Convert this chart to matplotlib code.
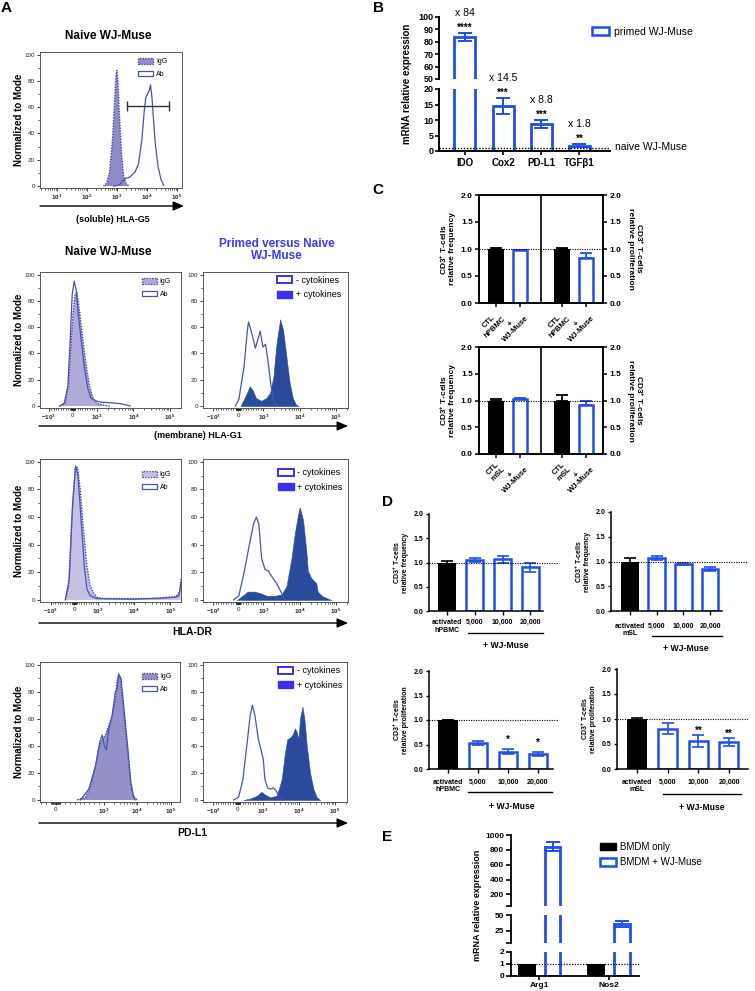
import matplotlib
matplotlib.use("Agg")
import matplotlib.pyplot as plt
from matplotlib.patches import Patch, FancyArrowPatch

plt.rcParams['font.family'] = ['Liberation Sans', 'DejaVu Sans']
plt.rcParams['font.weight'] = 'bold'
plt.rcParams['axes.labelweight'] = 'bold'
plt.rcParams['mathtext.fontset'] = 'custom'
plt.rcParams['mathtext.rm'] = 'Liberation Sans'
plt.rcParams['mathtext.it'] = 'Liberation Sans:italic'
plt.rcParams['mathtext.bf'] = 'Liberation Sans:bold'

BLUE = '#1f4fe8'
TITLE_BLUE = '#3b3bf2'
AB_COL = '#4653b4'
NAVY = '#2a4a9c'
LEG_BLUE = '#3a2ff0'
IGG_EDGE = '#4646a6'

# ---------------- data ----------------
# A: flow histograms, x = fluorescence, y = % of mode
g5_igg_x = [355, 447, 562, 708, 832, 933, 1000, 1072, 1202, 1413, 1660, 1995, 2512]
g5_igg_y = [0, 2, 10, 35, 65, 85, 88, 80, 55, 25, 8, 2, 0]
g5_ab_x = [776, 1259, 1660, 2138, 2754, 4074, 5248, 6761, 8128, 9120, 10470,
           12020, 13180, 14790, 16600, 19050, 23440, 29510, 36310]
g5_ab_y = [0, 1, 5, 6, 7, 11, 17, 35, 57, 67, 70, 73, 77, 67, 50, 32, 15, 5, 0.5]
g5_gate_x = [2140, 52500]
g5_gate_y = 61

g1_igg_x = [-530, -320, -180, -84, 0, 98, 168, 280, 420, 560, 700, 840, 1010, 1535, 2330]
g1_igg_y = [0, 2, 15, 45, 70, 85, 87, 72, 50, 30, 15, 6, 2, 0.5, 0]
g1_ab_x = [-560, -363, -210, -112, -28, 56, 140, 224, 336, 476, 615, 755, 937,
           1245, 2330, 3940, 5980, 8150]
g1_ab_y = [0, 2, 15, 50, 85, 95, 88, 70, 52, 30, 14, 6, 4, 3, 2.5, 2, 1, 0]
g1_minus_x = [-110, 27, 234, 370, 412, 549, 687, 879, 989, 1159, 1340, 1644, 1900, 2239, 2636]
g1_minus_y = [0, 5, 30, 58, 64, 55, 44, 57, 45, 47, 35, 15, 5, 1, 0]
g1_plus_x = [96, 302, 467, 577, 714, 920, 1208, 1545, 1900, 2333, 2924, 3516,
             4320, 5310, 6520, 8010, 9440]
g1_plus_y = [0, 8, 15, 12, 6, 4, 6, 10, 22, 48, 66, 58, 38, 18, 6, 1, 0]

dr_igg_x = [-377, -238, -98, 42, 140, 252, 392, 531, 671, 811, 951, 1413, 9290,
            49600, 75400, 103000, 141000, 180000, 193000]
dr_igg_y = [0, 10, 60, 95, 96, 80, 50, 25, 10, 5, 2, 1, 1, 1, 2, 2, 2.5, 6, 15]
dr_ab_x = [-377, -210, -70, 56, 154, 280, 420, 531, 671, 951, 9290, 75400, 141000, 170000, 193000]
dr_ab_y = [0, 15, 70, 97, 90, 60, 25, 8, 3, 1, 0.5, 1.5, 2, 3, 12]
dr_minus_x = [-182, 28, 238, 447, 615, 727, 825, 937, 1122, 1383, 1706, 2333, 3200, 3780, 4370]
dr_minus_y = [0, 3, 20, 40, 55, 60, 55, 30, 22, 21, 17, 12, 5, 1, 0]
dr_plus_x = [-42, 168, 377, 657, 867, 1245, 2100, 3200, 4370, 5980, 7380, 9100,
             10100, 12450, 15350, 16900, 20800, 28800, 31600, 43300, 73800]
dr_plus_y = [0, 3, 6, 6, 5, 3, 3, 4, 10, 30, 48, 62, 67, 58, 35, 21, 16, 12, 6, 2.5, 0]

pd_igg_x = [450, 623, 727, 831, 900, 969, 1135, 1426, 1791, 2249, 2523, 2825,
            3170, 3981, 5000, 6280, 7880, 9910]
pd_igg_y = [0, 2, 10, 25, 38, 45, 48, 55, 62, 75, 88, 93, 90, 65, 40, 15, 3, 0]
pd_ab_x = [519, 692, 831, 921, 969, 1059, 1216, 1426, 1791, 2249, 2523, 2825,
           3311, 3981, 5000, 6580, 7880, 8830]
pd_ab_y = [0, 8, 25, 43, 48, 40, 37, 52, 62, 80, 82, 93, 90, 70, 45, 12, 2, 0]
pd_minus_x = [-172, 26, 198, 357, 489, 582, 688, 820, 913, 1031, 1146, 1358,
              1648, 1954, 2317, 2690, 3327, 3707]
pd_minus_y = [0, 2, 15, 40, 62, 70, 62, 45, 38, 30, 15, 9, 8, 9, 7, 4, 1, 0]
pd_plus_x = [225, 489, 754, 952, 1146, 1578, 2415, 3327, 4120, 4790, 5680, 6600,
             7830, 8700, 9690, 10750, 12500, 14200, 16500, 20400, 25300, 31300, 38700]
pd_plus_y = [0, 1, 3, 6, 4, 2, 3, 15, 35, 45, 46, 48, 53, 50, 45, 60, 69, 60, 40, 20, 8, 2, 0]

# B: qPCR primed vs naive
b_genes = ['IDO', 'Cox2', 'PD-L1', 'TGFβ1']
b_primed = [84, 14.4, 8.6, 1.7]
b_err = [3, 2.6, 1.3, 0.4]
b_fold = ['x 84', 'x 14.5', 'x 8.8', 'x 1.8']
b_stars = ['****', '***', '***', '**']

# C: co-culture, frequency | proliferation
c_kind = ['ctl', 'wj', 'ctl', 'wj']
c_top_vals = [1.0, 0.98, 1.0, 0.84]
c_top_err = [0.01, 0.005, 0.02, 0.09]
c_top_labels = ['CTL\nhPBMC', '+\nWJ-Muse', 'CTL\nhPBMC', '+\nWJ-Muse']
c_bot_vals = [1.0, 1.03, 1.0, 0.92]
c_bot_err = [0.03, 0.02, 0.11, 0.07]
c_bot_labels = ['CTL\nmSL', '+\nWJ-Muse', 'CTL\nmSL', '+\nWJ-Muse']

# D: dose response
d_labels_h = ['activated\nhPBMC', '5,000', '10,000', '20,000']
d_labels_m = ['activated\nmSL', '5,000', '10,000', '20,000']
d_freq_h = [1.0, 1.06, 1.07, 0.90]
d_freq_h_err = [0.03, 0.04, 0.07, 0.09]
d_freq_m = [1.0, 1.07, 0.95, 0.85]
d_freq_m_err = [0.07, 0.04, 0.02, 0.04]
d_prol_h = [1.0, 0.53, 0.35, 0.31]
d_prol_h_err = [0.01, 0.04, 0.05, 0.04]
d_prol_m = [1.0, 0.81, 0.57, 0.55]
d_prol_m_err = [0.03, 0.11, 0.12, 0.08]
d_prol_h_sig = ['', '', '*', '*']
d_prol_m_sig = ['', '', '**', '**']

# E: macrophage genes
e_genes = ['Arg1', 'Nos2']
e_bmdm = [1, 1]
e_wj = [843, 36]
e_wj_err = [60, 5]

# ---------------- figure ----------------
W, H = 755, 991
fig = plt.figure(figsize=(W / 100, H / 100), dpi=100)


def rect(l, t, r, b):
    return [l / W, 1 - b / H, (r - l) / W, (b - t) / H]


def ftext(x, y, s, **kw):
    fig.text(x / W, 1 - y / H, s, **kw)


def axis_arrow(x0, x1, y):
    fig.add_artist(FancyArrowPatch((x0 / W, 1 - y / H), (x1 / W, 1 - y / H),
                                   transform=fig.transFigure,
                                   arrowstyle='-|>,head_length=0.65,head_width=0.28',
                                   mutation_scale=10, lw=1.0, color='black',
                                   shrinkA=0, shrinkB=0))


def flow_frame(box):
    ax = fig.add_axes(rect(*box))
    ax.set_ylim(-1.5, 102)
    ax.set_yticks([0, 20, 40, 60, 80, 100], ['0', '20', '40', '60', '80', '100'],
                  fontweight='normal')
    ax.set_yticks([10, 30, 50, 70, 90], minor=True)
    ax.tick_params(which='major', labelsize=4.5, length=2.2, width=0.6, pad=1.5, colors='#222')
    ax.tick_params(which='minor', length=1.3, width=0.5, colors='#222')
    for s in ax.spines.values():
        s.set_linewidth(0.7)
        s.set_color('#555')
    return ax


BIEX_TICKS = [-1000, 0, 1000, 10000, 100000]
BIEX_LABELS = ['$-10^{3}$', '0', '$10^{3}$', '$10^{4}$', '$10^{5}$']
BIEX_MINOR = (list(range(-900, 0, 100)) + list(range(-90, 0, 10)) + list(range(10, 100, 10))
              + list(range(100, 1000, 100)) + list(range(2000, 10000, 1000))
              + list(range(20000, 100000, 10000)) + [200000])


def biex(ax, linscale, lo, hi):
    ax.set_xscale('symlog', linthresh=1000, linscale=linscale)
    ax.set_xlim(lo, hi)
    keep = [i for i, t in enumerate(BIEX_TICKS) if lo <= t <= hi]
    ax.set_xticks([BIEX_TICKS[i] for i in keep], [BIEX_LABELS[i] for i in keep],
                  fontweight='normal')
    ax.set_xticks([m for m in BIEX_MINOR if lo <= m <= hi], minor=True)


def igg_legend(ax, fc, x, y):
    h = [Patch(facecolor=fc, edgecolor=IGG_EDGE, linestyle=(0, (1, 1)), linewidth=1.0),
         Patch(facecolor='white', edgecolor=AB_COL, linewidth=0.9)]
    ax.legend(h, ['IgG', 'Ab'], loc='upper left', bbox_to_anchor=(x, y), frameon=False,
              prop={'size': 5, 'weight': 'normal'}, handlelength=2.2, handleheight=0.9,
              labelspacing=0.75, handletextpad=0.4, borderpad=0, borderaxespad=0)


def cyt_legend(ax, x, y):
    h = [Patch(facecolor='white', edgecolor=LEG_BLUE, linewidth=1.4),
         Patch(facecolor=LEG_BLUE, edgecolor=LEG_BLUE, linewidth=1.0)]
    ax.legend(h, ['- cytokines', '+ cytokines'], loc='upper left', bbox_to_anchor=(x, y),
              frameon=False, prop={'size': 6.5, 'weight': 'normal'}, handlelength=1.7,
              handleheight=0.8, labelspacing=0.6, handletextpad=0.4, borderpad=0,
              borderaxespad=0)


def left_hist(ax, ix, iy, ax_x, ay, fc):
    ax.fill_between(ix, iy, 0, facecolor=fc, edgecolor='none')
    ax.plot(ix, iy, color=IGG_EDGE, lw=1.0, ls=(0, (1, 1)))
    ax.plot(ax_x, ay, color=AB_COL, lw=0.9)


def right_hist(ax, mx, my, px, py):
    ax.fill_between(px, py, 0, facecolor=NAVY, edgecolor=NAVY, lw=0.4)
    ax.plot(mx, my, color=AB_COL, lw=0.9)


# ---- A top: soluble HLA-G5
ax = flow_frame((40, 52, 182, 188))
ax.set_xscale('log')
ax.set_xlim(2.7, 148000)
ax.set_xticks([10, 100, 1000, 10000, 100000],
              ['$10^{1}$', '$10^{2}$', '$10^{3}$', '$10^{4}$', '$10^{5}$'], fontweight='normal')
left_hist(ax, g5_igg_x, g5_igg_y, g5_ab_x, g5_ab_y, '#8e8cc8')
ax.plot(g5_gate_x, [g5_gate_y] * 2, color='#333333', lw=1.0, marker='|', ms=7, mew=1.0)
igg_legend(ax, '#8e8cc8', 0.69, 0.955)
ftext(108, 36, 'Naive WJ-Muse', ha='center', va='center', fontsize=8.5)
ftext(19, 120, 'Normalized to Mode', rotation=90, ha='center', va='center', fontsize=7)
axis_arrow(40, 184, 206)
ftext(113, 219, '(soluble) HLA-G5', ha='center', va='center', fontsize=6.5)

# ---- A rows: HLA-G1, HLA-DR, PD-L1
rows = [
    ((40, 272, 181, 408), (203, 272, 348, 408), g1_igg_x, g1_igg_y, g1_ab_x, g1_ab_y,
     g1_minus_x, g1_minus_y, g1_plus_x, g1_plus_y, '#aeabd8', 0.59, (-1750, 199000),
     0.72, 0.955, 0.51, 0.97),
    ((40, 459, 181, 602), (203, 459, 348, 602), dr_igg_x, dr_igg_y, dr_ab_x, dr_ab_y,
     dr_minus_x, dr_minus_y, dr_plus_x, dr_plus_y, '#c4c1e4', 0.59, (-1950, 195000),
     0.72, 0.915, 0.52, 0.935),
    ((40, 662, 180, 802), (203, 662, 347, 802), pd_igg_x, pd_igg_y, pd_ab_x, pd_ab_y,
     pd_minus_x, pd_minus_y, pd_plus_x, pd_plus_y, '#9491ca', 1.29, (-325, 192000),
     0.73, 0.92, 0.52, 0.97),
]
for (lbox, rbox, ix, iy, abx, aby, mx, my, px, py, fc, ls_left, lim_left,
     lgx, lgy, rgx, rgy) in rows:
    axl = flow_frame(lbox)
    biex(axl, ls_left, *lim_left)
    left_hist(axl, ix, iy, abx, aby, fc)
    igg_legend(axl, fc, lgx, lgy)
    axr = flow_frame(rbox)
    biex(axr, 0.62, -1900, 215000)
    right_hist(axr, mx, my, px, py)
    cyt_legend(axr, rgx, rgy)
    ftext(19, (lbox[1] + lbox[3]) / 2, 'Normalized to Mode', rotation=90,
          ha='center', va='center', fontsize=7)

ftext(108, 252, 'Naive WJ-Muse', ha='center', va='center', fontsize=8.5)
ftext(277, 250, 'Primed versus Naive\nWJ-Muse', ha='center', va='center', fontsize=8.5,
      color=TITLE_BLUE, linespacing=1.0)
axis_arrow(39, 348, 426)
ftext(198, 436, '(membrane) HLA-G1', ha='center', va='center', fontsize=6.5)
axis_arrow(39, 348, 623)
ftext(192, 632, 'HLA-DR', ha='center', va='center', fontsize=7.5)
axis_arrow(39, 348, 823)
ftext(192, 833, 'PD-L1', ha='center', va='center', fontsize=7.5)

# ---------------- B ----------------
axBu = fig.add_axes(rect(439, 17, 610, 79))
axBl = fig.add_axes(rect(439, 89, 610, 151))
xb = list(range(len(b_genes)))
for ax in (axBu, axBl):
    ax.bar(xb, b_primed, 0.55, facecolor='white', edgecolor=BLUE, linewidth=2.0)
    ax.errorbar(xb, b_primed, yerr=b_err, fmt='none', ecolor=BLUE, elinewidth=1.4,
                capsize=4.8, capthick=1.4)
    ax.set_xlim(-0.68, 3.8)
    ax.spines['top'].set_visible(False)
    ax.spines['right'].set_visible(False)
    ax.spines['left'].set_linewidth(1.4)
    ax.tick_params(axis='y', labelsize=6.5, width=1.2, length=3, pad=1)
axBu.set_ylim(50, 100)
axBu.set_yticks(range(50, 101, 10))
axBu.spines['bottom'].set_visible(False)
axBu.set_xticks([])
axBl.set_ylim(0, 20)
axBl.set_yticks(range(0, 21, 5))
axBl.set_xticks(xb, b_genes, fontsize=7)
axBl.tick_params(axis='x', width=1.2, length=3, pad=2)
axBl.spines['bottom'].set_linewidth(1.4)
axBl.axhline(1, ls=(0, (1, 1.2)), color='black', lw=1.0, zorder=4)
for i in xb:
    axt = axBu if b_primed[i] > 50 else axBl
    top = b_primed[i] + b_err[i]
    axt.annotate(b_stars[i], (i, top), xytext=(0, 1.7), textcoords='offset points',
                 ha='center', va='baseline', fontsize=7, annotation_clip=False)
    axt.annotate(b_fold[i], (i, top), xytext=(0, 12.5), textcoords='offset points',
                 ha='center', va='baseline', fontsize=7.5, fontweight='normal',
                 annotation_clip=False)
ftext(407, 84, 'mRNA relative expression', rotation=90, ha='center', va='center', fontsize=7)
ftext(615, 147, 'naive WJ-Muse', ha='left', va='center', fontsize=7.5, fontweight='normal')
fig.legend([Patch(facecolor='white', edgecolor=BLUE, linewidth=1.8)], ['primed WJ-Muse'],
           loc='center left', bbox_to_anchor=(592 / W, 1 - 32 / H), frameon=False,
           prop={'size': 7.5, 'weight': 'normal'}, handlelength=1.6, handleheight=0.8,
           handletextpad=0.5, borderpad=0, borderaxespad=0)


# ---------------- C ----------------
def c_panel(box, vals, errs, labels):
    ax = fig.add_axes(rect(*box))
    xs = [0, 1, 2.75, 3.75]
    for x, v, e, k in zip(xs, vals, errs, c_kind):
        col = 'black' if k == 'ctl' else BLUE
        if k == 'ctl':
            ax.bar(x, v, 0.7, color='black', zorder=3)
        else:
            ax.bar(x, v, 0.62, facecolor='white', edgecolor=BLUE, lw=1.8, zorder=3)
        ax.errorbar(x, v, yerr=[[0], [e]], fmt='none', ecolor=col, elinewidth=1.3,
                    capsize=4.5, capthick=1.3, zorder=3)
    ax.axvline(1.875, color='black', lw=1.2)
    ax.axhline(1, ls=(0, (1, 1.2)), color='black', lw=0.8, zorder=4)
    ax.set_xlim(-0.71, 4.46)
    ax.set_ylim(0, 2)
    ax.set_yticks([0, 0.5, 1, 1.5, 2], ['0.0', '0.5', '1.0', '1.5', '2.0'])
    ax.set_xticks(xs, labels, rotation=45, ha='right', va='top', rotation_mode='anchor',
                  fontsize=5.5, multialignment='center')
    ax.tick_params(axis='both', labelsize=6, width=1.1, length=3, pad=1.5)
    ax.tick_params(axis='x', labelsize=5.5)
    for s in ax.spines.values():
        s.set_linewidth(1.2)
    ax2 = ax.twinx()
    ax2.set_ylim(0, 2)
    ax2.set_yticks([0, 0.5, 1, 1.5, 2], ['0.0', '0.5', '1.0', '1.5', '2.0'])
    ax2.tick_params(axis='y', labelsize=6, width=1.1, length=3, pad=1.5)
    for s in ax2.spines.values():
        s.set_linewidth(1.2)
    mid = (box[1] + box[3]) / 2
    ftext(447, mid, 'CD3$^{\\mathbf{+}}$ T-cells\nrelative frequency', rotation=90,
          ha='center', va='center', fontsize=6, linespacing=1.05)
    ftext(636, mid, 'CD3$^{\\mathbf{+}}$ T-cells\nrelative proliferation', rotation=270,
          ha='center', va='center', fontsize=6, linespacing=1.05)


c_panel((479, 195, 603, 303), c_top_vals, c_top_err, c_top_labels)
c_panel((479, 347, 603, 454), c_bot_vals, c_bot_err, c_bot_labels)


# ---------------- D ----------------
def d_panel(box, vals, errs, labels, ylabel, xlim, spine_end, under, under_y, wj_x, wj_y,
            sig=None, sig_off=0.0, lab_pad=3.0):
    ax = fig.add_axes(rect(*box))
    xs = list(range(4))
    ax.bar(xs[0], vals[0], 0.68, color='black', zorder=2)
    ax.bar(xs[1:], vals[1:], 0.62, facecolor='white', edgecolor=BLUE, lw=1.8, zorder=2)
    ax.errorbar(xs[:1], vals[:1], yerr=errs[:1], fmt='none', ecolor='black', elinewidth=1.2,
                capsize=4.5, capthick=1.2, zorder=3)
    ax.errorbar(xs[1:], vals[1:], yerr=errs[1:], fmt='none', ecolor=BLUE, elinewidth=1.2,
                capsize=4.5, capthick=1.2, zorder=3)
    ax.axhline(1, ls=(0, (1, 1.2)), color='black', lw=0.8, zorder=4)
    ax.set_xlim(*xlim)
    ax.set_ylim(0, 2)
    ax.spines['top'].set_visible(False)
    ax.spines['right'].set_visible(False)
    ax.spines['left'].set_linewidth(1.1)
    ax.spines['bottom'].set_linewidth(1.1)
    ax.spines['bottom'].set_bounds(xlim[0], spine_end)
    ax.set_yticks([0, 0.5, 1, 1.5, 2], ['0.0', '0.5', '1.0', '1.5', '2.0'])
    ax.set_xticks(xs, labels, fontsize=5, linespacing=1.1)
    ax.tick_params(axis='y', labelsize=5, width=1.0, length=2.5, pad=1.5)
    ax.tick_params(axis='x', width=1.0, length=3, pad=lab_pad)
    ax.set_ylabel(ylabel, fontsize=5, labelpad=3, linespacing=1.05)
    tr = ax.get_xaxis_transform()
    ax.plot(under, [under_y, under_y], color='black', lw=1.0, transform=tr, clip_on=False)
    ax.text(wj_x, wj_y, '+ WJ-Muse', transform=tr, ha='center', va='center', fontsize=6.2)
    if sig:
        for i, s in enumerate(sig):
            if s:
                ax.annotate(s, (i, vals[i] + errs[i]), xytext=(0, sig_off),
                            textcoords='offset points', ha='center', va='baseline',
                            fontsize=7)


freq_lab = 'CD3$^{\\mathbf{+}}$ T-cells\nrelative frequency'
prol_lab = 'CD3$^{\\mathbf{+}}$ T-cells\nrelative proliferation'
d_panel((429, 514, 558, 611), d_freq_h, d_freq_h_err, d_labels_h, freq_lab,
        (-0.65, 4.0), 3.47, (0.76, 3.47), -0.227, 2.13, -0.36)
d_panel((611, 512, 748, 611), d_freq_m, d_freq_m_err, d_labels_m, freq_lab,
        (-0.71, 4.42), 3.45, (0.82, 3.45), -0.25, 2.1, -0.38, lab_pad=5.5)
d_panel((429, 671, 558, 769), d_prol_h, d_prol_h_err, d_labels_h, prol_lab,
        (-0.63, 3.67), 3.5, (0.67, 3.47), -0.235, 2.13, -0.378,
        sig=d_prol_h_sig, sig_off=4.5, lab_pad=4)
d_panel((617, 669, 748, 769), d_prol_m, d_prol_m_err, d_labels_m, prol_lab,
        (-0.65, 3.62), 3.62, (0.85, 3.4), -0.25, 2.12, -0.39,
        sig=d_prol_m_sig, sig_off=0.5, lab_pad=4)

# ---------------- E ----------------
e_boxes = [(511, 835, 639, 906), (511, 915, 639, 943), (511, 952, 639, 976)]
e_ylims = [(44, 1000), (6, 50), (0, 2)]
e_yt = [([44, 200, 400, 600, 800, 1000], ['', '200', '400', '600', '800', '1000']),
        ([6, 25, 50], ['', '25', '50']),
        ([0, 1, 2], ['0', '1', '2'])]
xe = list(range(len(e_genes)))
for k, (box, lim, (tk, tl)) in enumerate(zip(e_boxes, e_ylims, e_yt)):
    ax = fig.add_axes(rect(*box))
    # only the bars that reach into this segment of the broken axis
    kb = [i for i in xe if e_bmdm[i] > lim[0]]
    kw = [i for i in xe if e_wj[i] + e_wj_err[i] > lim[0]]
    if kb:
        ax.bar([i - 0.18 for i in kb], [e_bmdm[i] for i in kb], 0.26, color='black')
    ax.bar([i + 0.19 for i in kw], [e_wj[i] for i in kw], 0.23, facecolor='white',
           edgecolor=BLUE, lw=2.0)
    ax.errorbar([i + 0.19 for i in kw], [e_wj[i] for i in kw],
                yerr=[e_wj_err[i] for i in kw], fmt='none', ecolor=BLUE,
                elinewidth=1.4, capsize=4.8, capthick=1.4)
    ax.set_xlim(-0.41, 1.44)
    ax.set_ylim(*lim)
    ax.set_yticks(tk, tl)
    ax.tick_params(axis='y', labelsize=6, width=1.2, length=3.5, pad=1.5)
    ax.spines['top'].set_visible(False)
    ax.spines['right'].set_visible(False)
    ax.spines['left'].set_linewidth(1.3)
    if k < 2:
        ax.spines['bottom'].set_visible(False)
        ax.set_xticks([])
    else:
        ax.spines['bottom'].set_linewidth(1.3)
        ax.set_xticks(xe, e_genes, fontsize=6)
        ax.tick_params(axis='x', width=1.2, length=3, pad=1.5)
        ax.axhline(1, ls=(0, (1, 1.2)), color='black', lw=0.9, zorder=4)
ftext(477, 905, 'mRNA relative expression', rotation=90, ha='center', va='center',
      fontsize=6.5)
fig.legend([Patch(facecolor='black', edgecolor='black'),
            Patch(facecolor='white', edgecolor=BLUE, linewidth=1.8)],
           ['BMDM only', 'BMDM + WJ-Muse'], loc='upper left',
           bbox_to_anchor=(600 / W, 1 - 842 / H), frameon=False,
           prop={'size': 7, 'weight': 'normal'}, handlelength=1.6, handleheight=0.8,
           labelspacing=0.55, handletextpad=0.5, borderpad=0, borderaxespad=0)

# panel letters
for letter, x, y in [('A', 6, 8), ('B', 378, 8), ('C', 378, 190), ('D', 387, 502),
                     ('E', 387, 837)]:
    ftext(x, y, letter, ha='center', va='center', fontsize=11)

fig.savefig('out.png', dpi=100)
